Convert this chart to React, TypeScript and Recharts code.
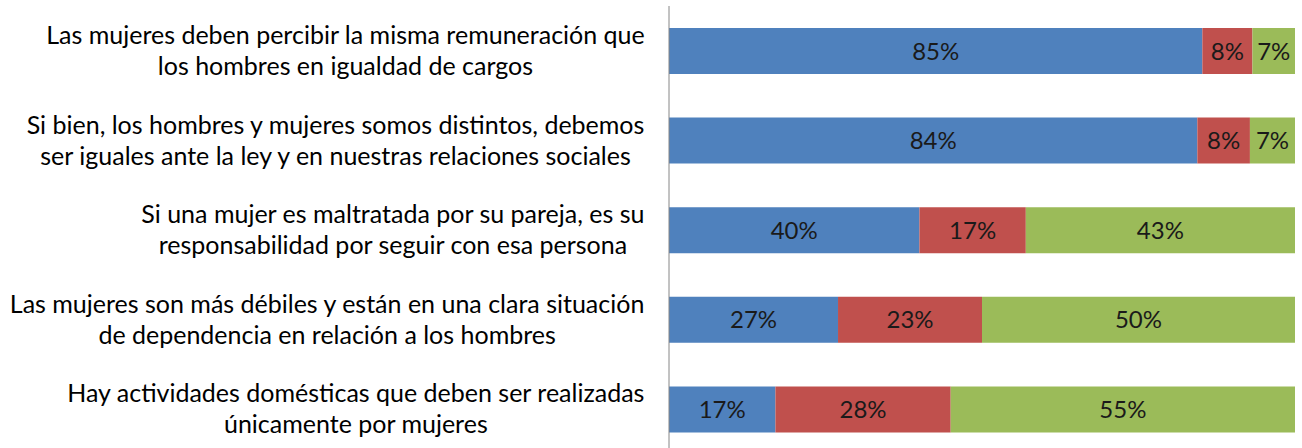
import React from "react";
import { BarChart, Bar, XAxis, YAxis, LabelList } from "recharts";

const categories: string[][] = [
  ["Las mujeres deben percibir la misma remuneración que", "los hombres en igualdad de cargos"],
  ["Si bien, los hombres y mujeres somos distintos, debemos", "ser iguales ante la ley y en nuestras relaciones sociales"],
  ["Si una mujer es maltratada por su pareja, es su", "responsabilidad por seguir con esa persona"],
  ["Las mujeres son más débiles y están en una clara situación", "de dependencia en relación a los hombres"],
  ["Hay actividades domésticas que deben ser realizadas", "únicamente por mujeres"],
];
const seriesA: number[] = [85.2, 84.4, 40, 27, 17];
const seriesB: number[] = [8.0, 8.4, 17, 23, 28];
const seriesC: number[] = [6.8, 7.2, 43, 50, 55];

const data = categories.map((lines, i) => ({
  name: lines.join(" "),
  a: seriesA[i],
  b: seriesB[i],
  c: seriesC[i],
}));

const FONT = "Lato";
const FS = 25;
const LFS = 24;
const LINE_H = 31;
const GAP = 16;

let ctx: CanvasRenderingContext2D | null = null;
function measure(t: string): number {
  if (!ctx) ctx = document.createElement("canvas").getContext("2d");
  if (!ctx) return t.length * FS * 0.5;
  ctx.font = `${FS}px ${FONT}`;
  return ctx.measureText(t).width;
}

const CategoryTick = (props: any) => {
  const { x, y, payload } = props;
  const idx = data.findIndex((d) => d.name === payload.value);
  const lines = idx >= 0 ? categories[idx] : [String(payload.value)];
  const maxW = Math.max(...lines.map(measure));
  const cx = x - GAP - maxW / 2;
  const startY = y - ((lines.length - 1) * LINE_H) / 2;
  return (
    <text x={cx} y={startY} textAnchor="middle" fontFamily={FONT} fontSize={FS} fill="#000">
      {lines.map((l, i) => (
        <tspan key={i} x={cx} y={startY + i * LINE_H} dy="0.35em">
          {l}
        </tspan>
      ))}
    </text>
  );
};

const fmt = (v: any) => `${Math.round(Number(v))}%`;

export default function App() {
  return (
    <div style={{ position: "absolute", left: 0, top: 0, width: 1302, height: 448, overflow: "hidden", background: "#fff" }}>
      <BarChart
        width={1302}
        height={454}
        data={data}
        layout="vertical"
        margin={{ top: 6, right: 7, left: 0, bottom: 0 }}
        barSize={46}
      >
        <XAxis type="number" domain={[0, 100]} hide />
        <YAxis
          type="category"
          dataKey="name"
          width={669}
          axisLine={{ stroke: "#868686", strokeWidth: 1 }}
          tickLine={false}
          tick={<CategoryTick />}
          interval={0}
        />
        <Bar dataKey="a" stackId="s" fill="#4F81BD" isAnimationActive={false}>
          <LabelList dataKey="a" position="center" formatter={fmt} fill="#1a1a1a" fontFamily={FONT} fontSize={LFS} />
        </Bar>
        <Bar dataKey="b" stackId="s" fill="#C0504D" isAnimationActive={false}>
          <LabelList dataKey="b" position="center" formatter={fmt} fill="#1a1a1a" fontFamily={FONT} fontSize={LFS} />
        </Bar>
        <Bar dataKey="c" stackId="s" fill="#9BBB59" isAnimationActive={false}>
          <LabelList dataKey="c" position="center" formatter={fmt} fill="#1a1a1a" fontFamily={FONT} fontSize={LFS} />
        </Bar>
      </BarChart>
    </div>
  );
}
